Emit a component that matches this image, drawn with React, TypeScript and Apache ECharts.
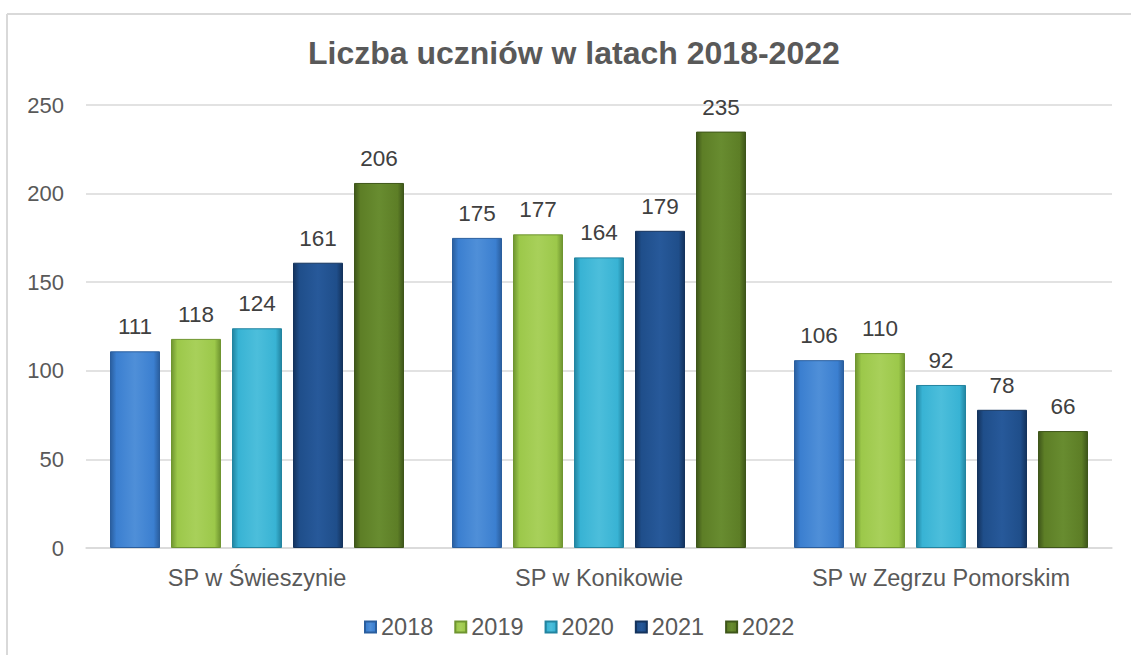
import React, { useEffect, useRef } from "react";
import * as echarts from "echarts";

const categories = ["SP w Świeszynie", "SP w Konikowie", "SP w Zegrzu Pomorskim"];
const years = ["2018", "2019", "2020", "2021", "2022"];
const v2018 = [111, 175, 106];
const v2019 = [118, 177, 110];
const v2020 = [124, 164, 92];
const v2021 = [161, 179, 78];
const v2022 = [206, 235, 66];
const seriesValues = [v2018, v2019, v2020, v2021, v2022];
const baseColors = ["#3b7fd0", "#9cc84a", "#38b3d4", "#1f4e8a", "#5d7e26"];
const edgeColors = ["#2a5e9e", "#6f9530", "#2284a0", "#14335d", "#3e561a"];
const lightColors = ["#4f8fd8", "#a8d05a", "#4cbedb", "#27599a", "#688c30"];

const FONT = "Liberation Sans, Arial, sans-serif";

export default function App() {
  const ref = useRef<HTMLDivElement>(null);
  useEffect(() => {
    if (!ref.current) return;
    const chart = echarts.init(ref.current, undefined, { renderer: "svg" });
    const series = years.map((y, i) => ({
      name: y,
      type: "bar",
      data: seriesValues[i],
      barWidth: 50,
      barGap: "22%",
      itemStyle: {
        color: new echarts.graphic.LinearGradient(0, 0, 1, 0, [
          { offset: 0, color: edgeColors[i] },
          { offset: 0.12, color: baseColors[i] },
          { offset: 0.5, color: lightColors[i] },
          { offset: 0.88, color: baseColors[i] },
          { offset: 1, color: edgeColors[i] },
        ]),
        borderColor: edgeColors[i],
        borderWidth: 1,
      },
      label: {
        show: true,
        position: "top",
        distance: 13,
        fontFamily: FONT,
        fontSize: 22.5,
        color: "#404040",
      },
    }));
    chart.setOption({
      animation: false,
      backgroundColor: "#ffffff",
      title: {
        text: "Liczba uczniów w latach 2018-2022",
        left: 303,
        top: 32,
        textStyle: {
          fontFamily: FONT,
          fontSize: 32,
          fontWeight: "bold",
          color: "#595959",
        },
      },
      legend: {
        data: years,
        bottom: 11,
        left: 359,
        icon: "rect",
        itemWidth: 11,
        itemHeight: 11,
        itemGap: 21,
        textStyle: {
          fontFamily: FONT,
          fontSize: 23.5,
          color: "#595959",
        },
      },
      grid: { left: 86, right: 19, top: 105, bottom: 107 },
      xAxis: {
        type: "category",
        data: categories,
        axisLine: { lineStyle: { color: "#d9d9d9", width: 1.5 } },
        axisTick: { show: false },
        axisLabel: {
          fontFamily: FONT,
          fontSize: 23.5,
          color: "#595959",
          margin: 18,
        },
      },
      yAxis: {
        type: "value",
        min: 0,
        max: 250,
        interval: 50,
        axisLine: { show: false },
        axisTick: { show: false },
        splitLine: { lineStyle: { color: "#d9d9d9", width: 1.5 } },
        axisLabel: {
          fontFamily: FONT,
          fontSize: 22,
          color: "#595959",
          margin: 22,
        },
      },
      graphic: [
        {
          type: "line",
          shape: { x1: 7, y1: 14, x2: 1131, y2: 14 },
          style: { stroke: "#d9d9d9", lineWidth: 2 },
        },
        {
          type: "line",
          shape: { x1: 7, y1: 14, x2: 7, y2: 655 },
          style: { stroke: "#d9d9d9", lineWidth: 2 },
        },
      ],
      series,
    });
    return () => chart.dispose();
  }, []);
  return (
    <div
      ref={ref}
      style={{ position: "fixed", left: 0, top: 0, width: 1131, height: 655 }}
    />
  );
}
